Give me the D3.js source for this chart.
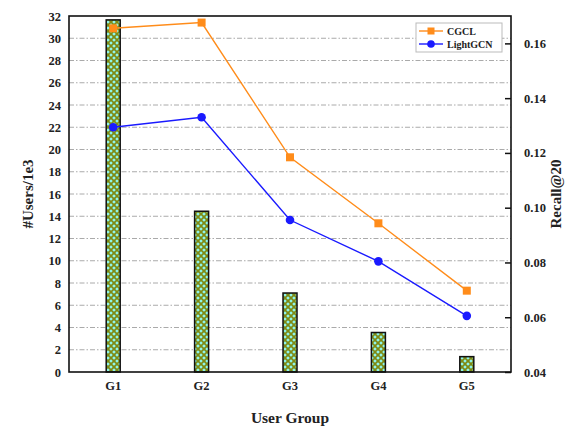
<!DOCTYPE html>
<html>
<head>
<meta charset="utf-8">
<script src="https://cdn.jsdelivr.net/npm/d3@7"></script>
<style>
  html, body { margin: 0; padding: 0; background: #fff; }
  svg { display: block; }
  text { font-family: "Liberation Serif", "Times New Roman", serif; font-weight: bold; fill: #222; }
</style>
</head>
<body>
<svg id="chart" width="565" height="427"></svg>
<script>
// User groups and the per-group data
const groups = ["G1", "G2", "G3", "G4", "G5"];
const users = [31.65, 14.45, 7.1, 3.55, 1.38];           // #Users / 1e3
const recallCGCL = [0.1655, 0.1676, 0.1184, 0.0943, 0.0697];
const recallLightGCN = [0.1294, 0.1330, 0.0955, 0.0804, 0.0605];
const leftTicks = d3.range(0, 33, 2);
const rightTicks = [0.04, 0.06, 0.08, 0.10, 0.12, 0.14, 0.16];

const svg = d3.select("#chart");
const m = { left: 69, right: 54, top: 16, bottom: 55 };
const W = 565, H = 427;
const iw = W - m.left - m.right, ih = H - m.top - m.bottom;

// Hatch fill for the bars: olive cross-hatch over cyan
const defs = svg.append("defs");
const ps = 6;
const pat = defs.append("pattern")
  .attr("id", "hatch").attr("patternUnits", "userSpaceOnUse")
  .attr("width", ps).attr("height", ps);
pat.append("rect").attr("width", ps).attr("height", ps).attr("fill", "#8ef6ee");
pat.append("path").attr("d", `M0,0L${ps},${ps}M${ps},0L0,${ps}M-1,${ps - 1}L1,${ps + 1}M${ps - 1},-1L${ps + 1},1`)
  .attr("stroke", "#7f8a14").attr("stroke-width", 1.7);

const g = svg.append("g").attr("transform", `translate(${m.left},${m.top})`);

const x = d3.scaleBand().domain(groups).range([0, iw]).paddingInner(0).paddingOuter(0);
const yL = d3.scaleLinear().domain([0, 32]).range([ih, 0]);
const yR = d3.scaleLinear().domain([0.04, 0.17]).range([ih, 0]);

// Dash-dot grid lines on the left scale
g.append("g").selectAll("line").data(leftTicks.filter(t => t > 0 && t < 32)).join("line")
  .attr("x1", 0).attr("x2", iw)
  .attr("y1", d => yL(d)).attr("y2", d => yL(d))
  .attr("stroke", "#aaa").attr("stroke-width", 1)
  .attr("stroke-dasharray", "5,2,1.5,2");

// Bars
const bw = 14;
g.append("g").selectAll("rect").data(groups).join("rect")
  .attr("x", d => x(d) + x.bandwidth() / 2 - bw / 2)
  .attr("width", bw)
  .attr("y", (d, i) => yL(users[i]))
  .attr("height", (d, i) => ih - yL(users[i]))
  .attr("fill", "url(#hatch)")
  .attr("stroke", "#111").attr("stroke-width", 1.5);

// Lines
const cx = d => x(d) + x.bandwidth() / 2;
const line = d3.line().x(d => d[0]).y(d => d[1]);
const series = [
  { name: "CGCL", vals: recallCGCL, color: "#ff8c1a", shape: "square" },
  { name: "LightGCN", vals: recallLightGCN, color: "#1a1aff", shape: "circle" }
];
series.forEach(s => {
  const pts = groups.map((gname, i) => [cx(gname), yR(s.vals[i])]);
  g.append("path").attr("d", line(pts)).attr("fill", "none")
    .attr("stroke", s.color).attr("stroke-width", 1.4);
  pts.forEach(p => {
    if (s.shape === "square") {
      g.append("rect").attr("x", p[0] - 4).attr("y", p[1] - 4)
        .attr("width", 8).attr("height", 8).attr("fill", s.color);
    } else {
      g.append("circle").attr("cx", p[0]).attr("cy", p[1]).attr("r", 4.3).attr("fill", s.color);
    }
  });
});

// Left axis labels
const axL = g.append("g").call(d3.axisLeft(yL).tickValues(leftTicks).tickSize(0).tickPadding(8));
axL.select(".domain").remove();
axL.selectAll("text").attr("font-size", 12.5).attr("font-family", "Liberation Serif").attr("font-weight", "bold").attr("fill", "#222");

// Right axis with inward ticks
const axR = g.append("g").attr("transform", `translate(${iw},0)`)
  .call(d3.axisRight(yR).tickValues(rightTicks).tickSize(-6).tickPadding(13).tickFormat(d3.format(".2f")));
axR.select(".domain").remove();
axR.selectAll("line").attr("stroke", "#111").attr("stroke-width", 1.5);
axR.selectAll("text").attr("font-size", 12.5).attr("font-family", "Liberation Serif").attr("font-weight", "bold").attr("fill", "#222");

// Bottom axis labels
const axB = g.append("g").attr("transform", `translate(0,${ih})`)
  .call(d3.axisBottom(x).tickSize(0).tickPadding(9));
axB.select(".domain").remove();
axB.selectAll("text").attr("font-size", 12.5).attr("font-family", "Liberation Serif").attr("font-weight", "bold").attr("fill", "#222");

// Frame
g.append("rect").attr("width", iw).attr("height", ih)
  .attr("fill", "none").attr("stroke", "#111").attr("stroke-width", 1.6);

// Axis titles
svg.append("text").attr("transform", `translate(33,${m.top + ih / 2}) rotate(-90)`)
  .attr("text-anchor", "middle").attr("font-size", 15).text("#Users/1e3");
svg.append("text").attr("transform", `translate(561,${m.top + ih / 2}) rotate(-90)`)
  .attr("text-anchor", "middle").attr("font-size", 15).text("Recall@20");
svg.append("text").attr("x", m.left + iw / 2).attr("y", 423)
  .attr("text-anchor", "middle").attr("font-size", 15.5).text("User Group");

// Legend
const lg = svg.append("g").attr("transform", "translate(416,23)");
lg.append("rect").attr("width", 86).attr("height", 29)
  .attr("fill", "#fff").attr("stroke", "#bbb").attr("stroke-width", 1);
series.forEach((s, i) => {
  const yy = 8 + i * 13;
  lg.append("line").attr("x1", 3).attr("x2", 27).attr("y1", yy).attr("y2", yy)
    .attr("stroke", s.color).attr("stroke-width", 1.4);
  if (s.shape === "square") {
    lg.append("rect").attr("x", 15 - 3.5).attr("y", yy - 3.5).attr("width", 7).attr("height", 7).attr("fill", s.color);
  } else {
    lg.append("circle").attr("cx", 15).attr("cy", yy).attr("r", 3.8).attr("fill", s.color);
  }
  lg.append("text").attr("x", 31).attr("y", yy + 3.5).attr("font-size", 10).text(s.name);
});
</script>
</body>
</html>
